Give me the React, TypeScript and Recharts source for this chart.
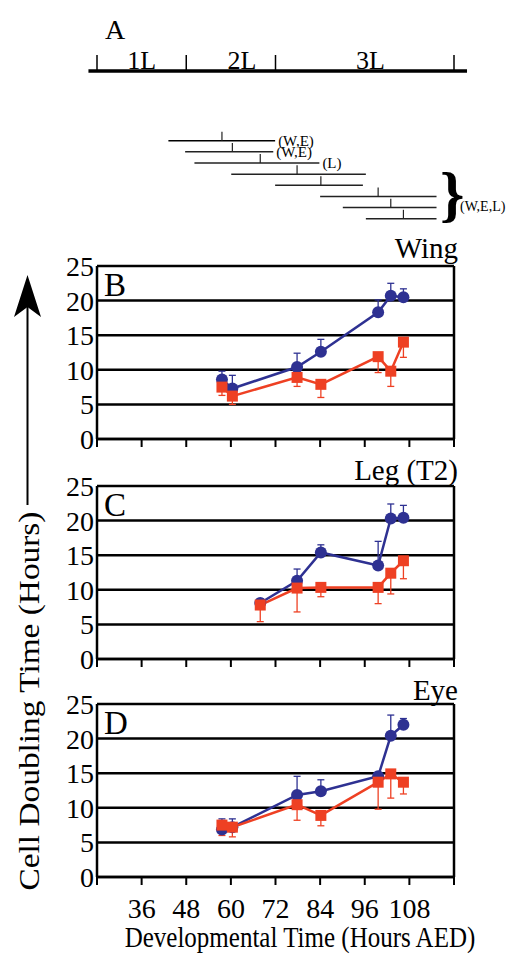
import React from 'react';
import {
  ComposedChart,
  LineChart,
  Line,
  XAxis,
  YAxis,
  CartesianGrid,
  ErrorBar,
  ReferenceLine,
  ReferenceDot,
} from 'recharts';

const BLUE = '#2E3192';
const RED = '#EE4023';
const FONT = "'Liberation Serif', 'Times New Roman', serif";

// sampling times (hours AED)
const sampleTimes = [57.6, 60.4, 67.9, 77.8, 84.2, 99.6, 103.0, 106.4];

// Wing
const wingBlue = [8.6, 7.3, null, 10.4, 12.6, 18.3, 20.7, 20.5];
const wingBlueErr = [1.2, 1.9, null, 2.0, 1.8, 1.8, 1.8, 1.2];
const wingRed = [7.5, 6.2, null, 8.9, 7.9, 11.9, 9.8, 14.0];
const wingRedErr = [1.2, 1.2, null, 1.3, 1.9, 2.3, 2.2, 2.2];

// Leg (T2)
const legBlue = [null, null, 8.1, 11.3, 15.4, 13.5, 20.3, 20.4];
const legBlueErr = [null, null, 0.6, 1.7, 1.1, 3.5, 2.1, 1.8];
const legRed = [null, null, 7.8, 10.25, 10.35, 10.35, 12.4, 14.2];
const legRedErr = [null, null, 2.4, 3.45, 1.35, 2.35, 3.0, 2.6];

// Eye
const eyeBlue = [6.85, 7.2, null, 11.85, 12.4, 14.55, 20.4, 22.0];
const eyeBlueErr = [1.55, 1.2, null, 2.7, 1.65, 0, 3.0, 0.9];
const eyeRed = [7.5, 7.2, null, 10.45, 8.9, 13.7, 14.9, 13.7];
const eyeRedErr = [1.5, 1.4, null, 2.25, 1.5, 3.9, 3.5, 1.7];

const xTicks = [24, 36, 48, 60, 72, 84, 96, 108, 120];
const yTicks = [0, 5, 10, 15, 20, 25];

// larval stages (panel A)
const stageBounds = [24, 48, 72, 120];
const stageNames = ['1L', '2L', '3L'];
const stageLabelAt = [36, 63, 97.5];
const stageBarExtent = [21.7, 123.5];

// labelling windows
const windowStart = [43.2, 47.7, 50.2, 60.1, 71.9, 84.0, 90.1, 96.3];
const windowEnd = [71.9, 71.4, 83.8, 96.3, 95.5, 115.3, 115.3, 115.3];
const windowTags = ['(W,E)', '(W,E)', '(L)', '', '', '', '', ''];

const panelNames = ['Wing', 'Leg (T2)', 'Eye'];
const panelLetters = ['B', 'C', 'D'];

const PLOT_TOPS = [266, 486, 704.3];
const PLOT_H = 173;

const Circle = (props: any) => {
  const { cx, cy, index } = props;
  if (cx == null || cy == null || props.value == null) return <g key={`c${index}`} />;
  return <circle key={`c${index}`} cx={cx} cy={cy} r={6} fill={BLUE} />;
};

const Square = (props: any) => {
  const { cx, cy, index } = props;
  if (cx == null || cy == null || props.value == null) return <g key={`s${index}`} />;
  return <rect key={`s${index}`} x={cx - 5.5} y={cy - 5.5} width={11} height={11} fill={RED} />;
};

function Panel(props: {
  top: number;
  blue: (number | null)[];
  blueErr: (number | null)[];
  red: (number | null)[];
  redErr: (number | null)[];
  showLabels: boolean;
}) {
  const { top, blue, blueErr, red, redErr, showLabels } = props;
  const data = sampleTimes
    .map((t, i) => ({
      t,
      blue: blue[i],
      red: red[i],
      blueErr: [0, blueErr[i] ?? 0],
      redErr: [redErr[i] ?? 0, 0],
    }))
    .filter((d) => d.blue != null || d.red != null);
  const xH = showLabels ? 50 : 18;
  const marginTop = 18;
  return (
    <div style={{ position: 'absolute', left: 0, top: top - marginTop }}>
      <LineChart
        width={510}
        height={marginTop + PLOT_H + xH}
        data={data}
        margin={{ top: marginTop, right: 56, left: 57, bottom: 0 }}
        style={{ overflow: 'visible' }}
      >
        <CartesianGrid horizontal vertical={false} stroke="#000" strokeWidth={2.5} />
        <XAxis
          dataKey="t"
          type="number"
          domain={[24, 120]}
          ticks={xTicks}
          interval={0}
          allowDataOverflow
          height={xH}
          tickSize={8}
          tickMargin={13}
          axisLine={{ stroke: '#000', strokeWidth: 2.5 }}
          tickLine={{ stroke: '#000', strokeWidth: 2 }}
          tick={{ fill: '#000', fontSize: 28, fontFamily: FONT }}
          tickFormatter={(v: number) => (showLabels && v !== 24 && v !== 120 ? String(v) : '')}
        />
        <YAxis
          type="number"
          domain={[0, 25]}
          ticks={yTicks}
          interval={0}
          allowDataOverflow
          width={40}
          tickSize={0}
          tickMargin={3}
          axisLine={{ stroke: '#000', strokeWidth: 2.5 }}
          tickLine={false}
          tick={{ fill: '#000', fontSize: 28, fontFamily: FONT }}
        />
        <ReferenceLine x={120} stroke="#000" strokeWidth={2.5} />
        <Line
          dataKey="blue"
          stroke={BLUE}
          strokeWidth={2.5}
          dot={Circle}
          activeDot={false}
          isAnimationActive={false}
        >
          <ErrorBar dataKey="blueErr" direction="y" width={3.5} stroke={BLUE} strokeWidth={1.3} />
        </Line>
        <Line
          dataKey="red"
          stroke={RED}
          strokeWidth={2.5}
          dot={Square}
          activeDot={false}
          isAnimationActive={false}
        >
          <ErrorBar dataKey="redErr" direction="y" width={3.5} stroke={RED} strokeWidth={1.3} />
        </Line>
      </LineChart>
    </div>
  );
}

function StageChart() {
  const rows = stageNames.map((n, i) => ({ n, x: stageLabelAt[i], y: 0.69 }));
  return (
    <div style={{ position: 'absolute', left: 0, top: 0 }}>
      <ComposedChart width={510} height={90} data={rows} margin={{ top: 55, right: 56, left: 97, bottom: 19 }}>
        <XAxis type="number" dataKey="x" domain={[24, 120]} allowDataOverflow hide />
        <YAxis type="number" domain={[0, 1]} allowDataOverflow hide />
        <Line dataKey="y" stroke="none" dot={false} activeDot={false} isAnimationActive={false} />
        <ReferenceLine
          segment={[
            { x: stageBarExtent[0], y: 0 },
            { x: stageBarExtent[1], y: 0 },
          ]}
          stroke="#000"
          strokeWidth={3.5}
          ifOverflow="visible"
        />
        {stageBounds.map((b) => (
          <ReferenceLine
            key={`b${b}`}
            segment={[
              { x: b, y: 0 },
              { x: b, y: 1 },
            ]}
            stroke="#000"
            strokeWidth={1.5}
            ifOverflow="visible"
          />
        ))}
        {stageNames.map((n, i) => (
          <ReferenceDot
            key={n}
            x={stageLabelAt[i]}
            y={0.69}
            r={0}
            fill="none"
            stroke="none"
            ifOverflow="visible"
            label={{ value: n, position: 'center', fontSize: 26, fill: '#000', fontFamily: FONT }}
          />
        ))}
      </ComposedChart>
    </div>
  );
}

function WindowChart() {
  const rows = windowStart.map((s, i) => ({ s, e: windowEnd[i], m: sampleTimes[i], row: i }));
  return (
    <div style={{ position: 'absolute', left: 0, top: 130 }}>
      <ComposedChart width={510} height={100} data={rows} margin={{ top: 10.7, right: 56, left: 97, bottom: 11.3 }}>
        <XAxis type="number" dataKey="m" domain={[24, 120]} allowDataOverflow hide />
        <YAxis type="number" domain={[0, 7]} allowDataOverflow reversed hide />
        <Line dataKey="row" stroke="none" dot={false} activeDot={false} isAnimationActive={false} />
        {rows.map((r) => (
          <ReferenceLine
            key={`w${r.row}`}
            segment={[
              { x: r.s, y: r.row },
              { x: r.e, y: r.row },
            ]}
            stroke={r.row === 0 ? '#000' : '#222'}
            strokeWidth={1.5}
            ifOverflow="visible"
            label={
              windowTags[r.row]
                ? { value: windowTags[r.row], position: 'right', offset: 3, fontSize: 15, fill: '#000', fontFamily: FONT }
                : undefined
            }
          />
        ))}
        {rows.map((r) => (
          <ReferenceLine
            key={`t${r.row}`}
            segment={[
              { x: r.m, y: r.row },
              { x: r.m, y: r.row - 0.8 },
            ]}
            stroke="#222"
            strokeWidth={1.2}
            ifOverflow="visible"
          />
        ))}
      </ComposedChart>
    </div>
  );
}

export default function App() {
  return (
    <div
      style={{
        position: 'absolute',
        left: 0,
        top: 0,
        width: 510,
        height: 955,
        background: '#fff',
        fontFamily: FONT,
        overflow: 'hidden',
      }}
    >
      <StageChart />
      <WindowChart />
      <Panel top={PLOT_TOPS[0]} blue={wingBlue} blueErr={wingBlueErr} red={wingRed} redErr={wingRedErr} showLabels={false} />
      <Panel top={PLOT_TOPS[1]} blue={legBlue} blueErr={legBlueErr} red={legRed} redErr={legRedErr} showLabels={false} />
      <Panel top={PLOT_TOPS[2]} blue={eyeBlue} blueErr={eyeBlueErr} red={eyeRed} redErr={eyeRedErr} showLabels={true} />
      <svg
        width={510}
        height={955}
        style={{ position: 'absolute', left: 0, top: 0, pointerEvents: 'none' }}
        fontFamily={FONT}
      >
        <text x={105} y={39} fontSize={28} fill="#000">A</text>
        <text x={440} y={215} fontSize={62} fontWeight="bold" fill="#000">{'}'}</text>
        <text x={460} y={211} fontSize={14} fill="#000">(W,E,L)</text>
        <line x1={27.5} y1={505} x2={27.5} y2={300} stroke="#000" strokeWidth={2} />
        <polygon points="27.5,275 41,317 27.5,307 14,317" fill="#000" />
        <text transform="translate(38.5,701) rotate(-90) scale(1.15,1)" textAnchor="middle" fontSize={29} fill="#000">
          Cell Doubling Time (Hours)
        </text>
        {panelNames.map((n, i) => (
          <text key={n} x={458} y={PLOT_TOPS[i] - [8, 6, 4][i]} textAnchor="end" fontSize={29} fill="#000">
            {n}
          </text>
        ))}
        {panelLetters.map((l, i) => (
          <text key={l} x={104} y={PLOT_TOPS[i] + 30} fontSize={33} fill="#000">
            {l}
          </text>
        ))}
        <text transform="translate(300,947) scale(1,1.15)" textAnchor="middle" fontSize={25} fill="#000">
          Developmental Time (Hours AED)
        </text>
      </svg>
    </div>
  );
}
